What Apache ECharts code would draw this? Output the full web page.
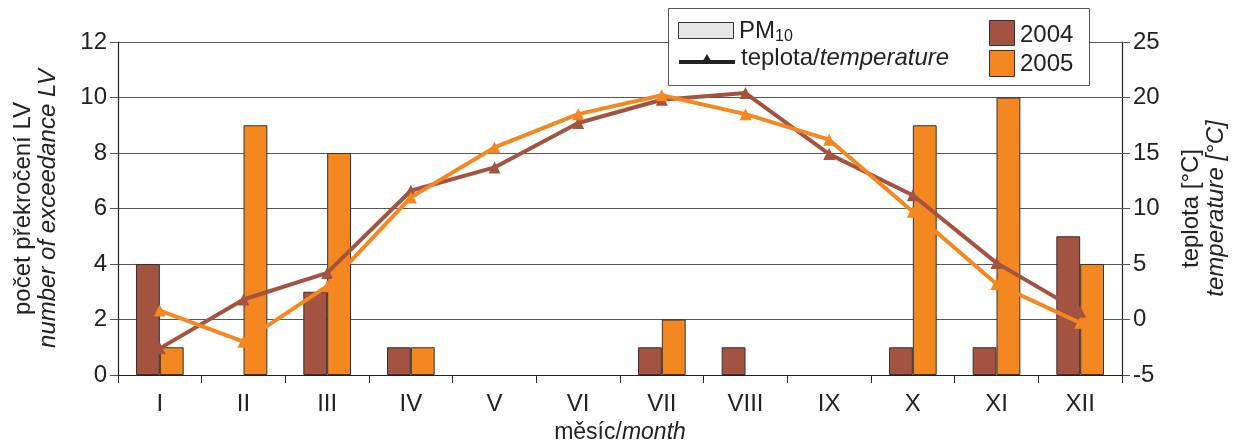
<!DOCTYPE html>
<html>
<head>
<meta charset="utf-8">
<script src="https://cdn.jsdelivr.net/npm/echarts@6/dist/echarts.min.js"></script>
<style>
html,body{margin:0;padding:0;background:#fff;}
#chart{width:1234px;height:441px;}
</style>
</head>
<body>
<div id="chart"></div>
<script>
const months = ['I','II','III','IV','V','VI','VII','VIII','IX','X','XI','XII'];
const pm2004 = [4, 0, 3, 1, 0, 0, 1, 1, 0, 1, 1, 5];
const pm2005 = [1, 9, 8, 1, 0, 0, 2, 0, 0, 9, 10, 4];
const temp2004 = [-2.6, 1.8, 4.2, 11.6, 13.7, 17.7, 19.8, 20.4, 14.9, 11.2, 5.1, 0.7];
const temp2005 = [0.8, -2.0, 3.0, 11.0, 15.5, 18.5, 20.2, 18.5, 16.2, 9.7, 3.2, -0.3];

const C2004 = '#a3533f';
const C2005 = '#f4871f';
const FONT = 'Liberation Sans, Arial, sans-serif';
const barData = arr => arr.map(v => (v === 0 ? '-' : v));

const chart = echarts.init(document.getElementById('chart'));
chart.setOption({
  animation: false,
  textStyle: { fontFamily: FONT },
  grid: { left: 118, right: 112, top: 42, bottom: 66, outerBoundsMode: 'none', containLabel: false },
  xAxis: {
    type: 'category',
    data: months,
    boundaryGap: true,
    axisLine: { lineStyle: { color: '#222', width: 1.2 } },
    axisTick: { show: true, length: 8, alignWithLabel: false, lineStyle: { color: '#222' } },
    axisLabel: { color: '#222', fontSize: 24, margin: 17, fontFamily: FONT },
    name: '{a|měsíc/}{b|month}',
    nameLocation: 'middle',
    nameGap: 46,
    nameTextStyle: {
      rich: {
        a: { fontSize: 23, color: '#222', fontFamily: FONT },
        b: { fontSize: 23, color: '#222', fontStyle: 'italic', fontFamily: FONT }
      }
    }
  },
  yAxis: [
    {
      type: 'value', min: 0, max: 12, interval: 2,
      axisLine: { show: true, lineStyle: { color: '#222', width: 1.2 } },
      axisTick: { show: true, length: 8, lineStyle: { color: '#555' } },
      axisLabel: { color: '#222', fontSize: 24, margin: 11, fontFamily: FONT },
      splitLine: { show: true, lineStyle: { color: '#555', width: 1.2 } },
      name: '{a|počet překročení LV}\n{b|number of exceedance LV}',
      nameLocation: 'middle',
      nameRotate: 90,
      nameGap: 57,
      nameTextStyle: {
        rich: {
          a: { fontSize: 24, color: '#222', lineHeight: 25, fontFamily: FONT },
          b: { fontSize: 24, color: '#222', fontStyle: 'italic', lineHeight: 25, fontFamily: FONT }
        }
      }
    },
    {
      type: 'value', min: -5, max: 25, interval: 5,
      position: 'right',
      axisLine: { show: true, lineStyle: { color: '#222', width: 1.2 } },
      axisTick: { show: true, length: 8, lineStyle: { color: '#555' } },
      axisLabel: { color: '#222', fontSize: 24, margin: 11, fontFamily: FONT },
      splitLine: { show: false },
      name: '{a|teplota [°C]}\n{b|temperature [°C]}',
      nameLocation: 'middle',
      nameRotate: 90,
      nameGap: 57,
      nameTextStyle: {
        rich: {
          a: { fontSize: 24, color: '#222', lineHeight: 25, fontFamily: FONT },
          b: { fontSize: 24, color: '#222', fontStyle: 'italic', lineHeight: 25, fontFamily: FONT }
        }
      }
    }
  ],
  series: [
    {
      name: '2004', type: 'bar', yAxisIndex: 0, data: barData(pm2004),
      barGap: '0%', barCategoryGap: '43%',
      itemStyle: { color: C2004, borderColor: '#333', borderWidth: 1 }
    },
    {
      name: '2005', type: 'bar', yAxisIndex: 0, data: barData(pm2005),
      barGap: '0%', barCategoryGap: '43%',
      itemStyle: { color: C2005, borderColor: '#333', borderWidth: 1 }
    },
    {
      name: 't2004', type: 'line', yAxisIndex: 1, data: temp2004,
      symbol: 'triangle', symbolSize: 12,
      lineStyle: { color: C2004, width: 4 },
      itemStyle: { color: C2004 }, z: 5
    },
    {
      name: 't2005', type: 'line', yAxisIndex: 1, data: temp2005,
      symbol: 'triangle', symbolSize: 12,
      lineStyle: { color: C2005, width: 4 },
      itemStyle: { color: C2005 }, z: 6
    }
  ],
  graphic: [
    { type: 'rect', z: 100, shape: { x: 668.5, y: 8.5, width: 421, height: 77 },
      style: { fill: '#fff', stroke: '#555', lineWidth: 1 } },
    { type: 'rect', z: 101, shape: { x: 678.5, y: 22.5, width: 55, height: 16 },
      style: { fill: '#e4e6e8', stroke: '#333', lineWidth: 1 } },
    { type: 'text', z: 101, x: 739, y: 31,
      style: { text: 'PM', fontSize: 24, fill: '#222', fontFamily: FONT, verticalAlign: 'middle' } },
    { type: 'text', z: 101, x: 775, y: 37,
      style: { text: '10', fontSize: 16, fill: '#222', fontFamily: FONT, verticalAlign: 'middle' } },
    { type: 'line', z: 101, shape: { x1: 679, y1: 62, x2: 735, y2: 62 },
      style: { stroke: '#222', lineWidth: 4 } },
    { type: 'polygon', z: 102, shape: { points: [[707, 54], [701, 64], [713, 64]] },
      style: { fill: '#222' } },
    { type: 'text', z: 101, x: 741, y: 58,
      style: { text: '{a|teplota/}{b|temperature}', fill: '#222', verticalAlign: 'middle',
        rich: {
          a: { fontSize: 24, fill: '#222', fontFamily: FONT },
          b: { fontSize: 24, fill: '#222', fontStyle: 'italic', fontFamily: FONT }
        } } },
    { type: 'rect', z: 101, shape: { x: 989.5, y: 20.5, width: 25, height: 25 },
      style: { fill: C2004, stroke: '#333', lineWidth: 1 } },
    { type: 'text', z: 101, x: 1020, y: 35,
      style: { text: '2004', fontSize: 24, fill: '#222', fontFamily: FONT, verticalAlign: 'middle' } },
    { type: 'rect', z: 101, shape: { x: 989.5, y: 50.5, width: 25, height: 26 },
      style: { fill: C2005, stroke: '#333', lineWidth: 1 } },
    { type: 'text', z: 101, x: 1020, y: 64,
      style: { text: '2005', fontSize: 24, fill: '#222', fontFamily: FONT, verticalAlign: 'middle' } }
  ]
});
</script>
</body>
</html>
